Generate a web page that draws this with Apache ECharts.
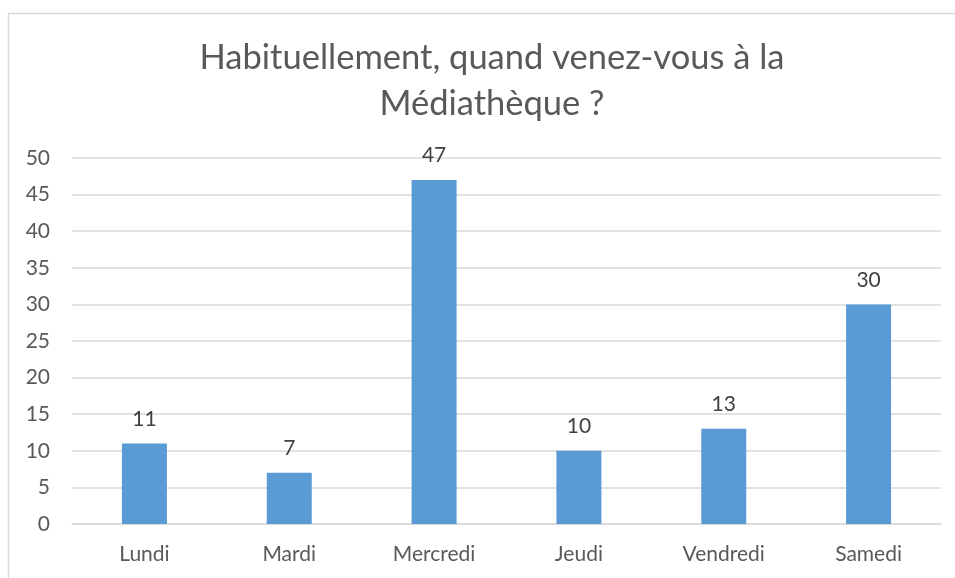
<!DOCTYPE html>
<html>
<head>
<meta charset="utf-8">
<script src="https://cdn.jsdelivr.net/npm/echarts@6/dist/echarts.min.js"></script>
<style>
  html, body { margin: 0; padding: 0; background: #ffffff; }
  #chart { width: 955px; height: 578px; }
</style>
</head>
<body>
<div id="chart"></div>
<script>
// Jours de la semaine et nombre de réponses
const categories = ['Lundi', 'Mardi', 'Mercredi', 'Jeudi', 'Vendredi', 'Samedi'];
const values = [11, 7, 47, 10, 13, 30];
const yTicks = { min: 0, max: 50, interval: 5 };

const FONT = 'Lato, "Noto Sans", sans-serif';
const TEXT = '#595959';

const chart = echarts.init(document.getElementById('chart'), null, { renderer: 'canvas' });
chart.setOption({
  backgroundColor: '#ffffff',
  animation: false,
  graphic: [{
    type: 'rect',
    shape: { x: 8.5, y: 13.5, width: 1000, height: 700 },
    style: { fill: 'none', stroke: '#d9d9d9', lineWidth: 1.5 },
    silent: true
  }],
  title: {
    text: 'Habituellement, quand venez-vous à la\nMédiathèque ?',
    left: 487,
    top: 30,
    textAlign: 'center',
    textStyle: {
      fontFamily: FONT,
      fontSize: 34.5,
      fontWeight: 'normal',
      color: TEXT,
      lineHeight: 46
    }
  },
  grid: { left: 72, right: 14, top: 158, bottom: 54, containLabel: false },
  xAxis: {
    type: 'category',
    data: categories,
    axisLine: { show: true, lineStyle: { color: '#d9d9d9', width: 1.5 } },
    axisTick: { show: false },
    axisLabel: { color: TEXT, fontFamily: FONT, fontSize: 21, margin: 20 }
  },
  yAxis: {
    type: 'value',
    min: yTicks.min,
    max: yTicks.max,
    interval: yTicks.interval,
    axisLine: { show: false },
    axisTick: { show: false },
    splitLine: { lineStyle: { color: '#d9d9d9', width: 1.5 } },
    axisLabel: { color: TEXT, fontFamily: FONT, fontSize: 21, margin: 22 }
  },
  series: [{
    type: 'bar',
    data: values,
    barWidth: 45,
    itemStyle: { color: '#5b9bd5' },
    label: {
      show: true,
      position: 'top',
      distance: 14,
      color: '#404040',
      fontFamily: FONT,
      fontSize: 21
    }
  }]
});
</script>
</body>
</html>
